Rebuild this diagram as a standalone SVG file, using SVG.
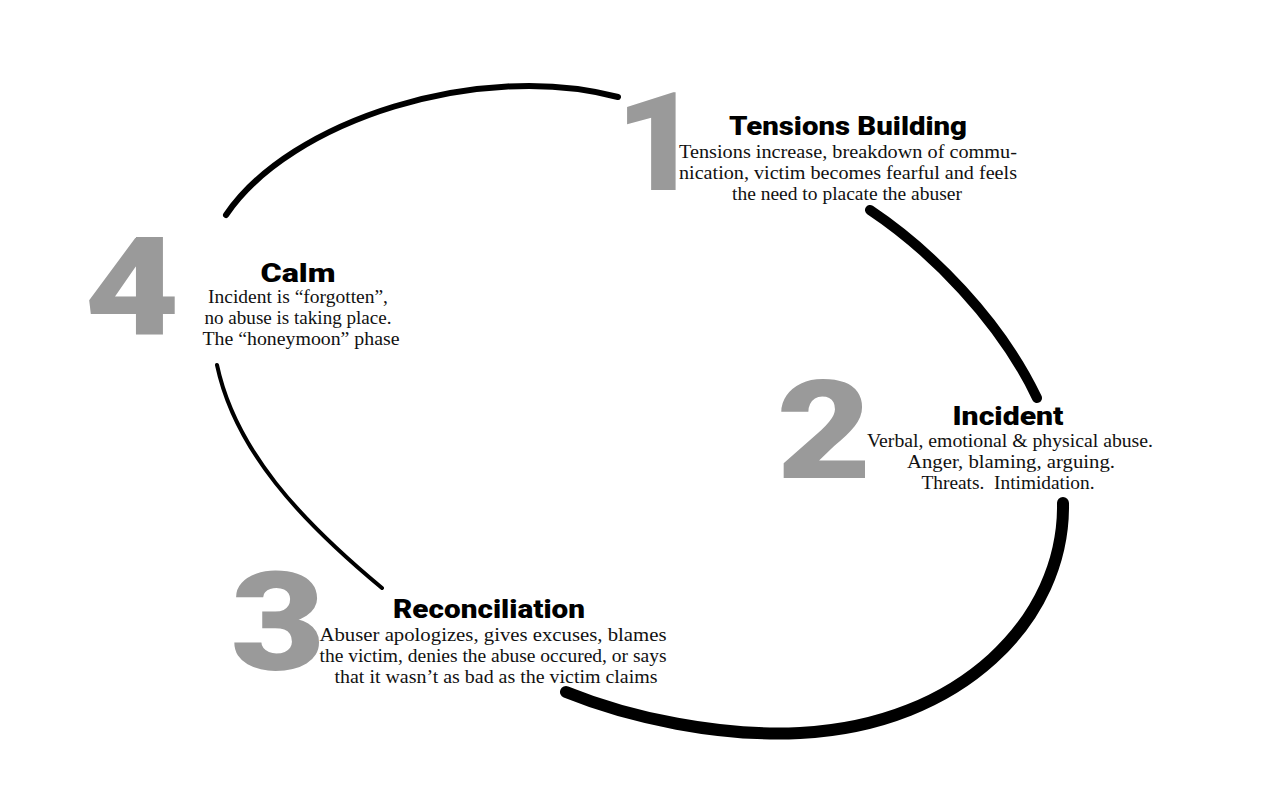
<svg xmlns="http://www.w3.org/2000/svg" width="1280" height="800" viewBox="0 0 1280 800">
<style>
.num{font-family:Roboto,"Open Sans","DejaVu Sans",sans-serif;font-weight:900;font-size:138px;fill:#9a9a9a;text-anchor:middle}
.head{font-family:Roboto,"DejaVu Sans",sans-serif;font-weight:900;font-size:25px;fill:#000;text-anchor:middle}
.body{font-family:"Liberation Serif","DejaVu Serif",serif;font-size:19px;fill:#111;text-anchor:middle}
.arc{fill:none;stroke:#000;stroke-linecap:round}
</style>
<rect width="1280" height="800" fill="#fff"/>
<g id="connectors">
<path class="arc" stroke-width="6" d="M226,215 C290,120 480,60 618,97"/>
<path class="arc" stroke-width="10" d="M870,210 C930,250 1000,320 1037,398"/>
<path class="arc" stroke-width="12" d="M1063,503 C1065,620 960,725 800,733 C720,737 630,718 566,692"/>
<path class="arc" stroke-width="4" d="M217,365 C235,450 300,520 382,588"/>
</g>
<g id="tensions">
<text class="num" x="658" y="190" textLength="86" lengthAdjust="spacingAndGlyphs">1</text>
<text class="head" x="848" y="135" textLength="238" lengthAdjust="spacingAndGlyphs">Tensions Building</text>
<text class="body" x="848" y="158" textLength="338" lengthAdjust="spacingAndGlyphs">Tensions increase, breakdown of commu-</text>
<text class="body" x="848" y="179" textLength="338" lengthAdjust="spacingAndGlyphs">nication, victim becomes fearful and feels</text>
<text class="body" x="847" y="200" textLength="230" lengthAdjust="spacingAndGlyphs">the need to placate the abuser</text>
</g>
<g id="incident">
<text class="num" x="824" y="478" textLength="95" lengthAdjust="spacingAndGlyphs">2</text>
<text class="head" x="1008" y="425" textLength="111" lengthAdjust="spacingAndGlyphs">Incident</text>
<text class="body" x="1010" y="447" textLength="286" lengthAdjust="spacingAndGlyphs">Verbal, emotional &amp; physical abuse.</text>
<text class="body" x="1011" y="468" textLength="208" lengthAdjust="spacingAndGlyphs">Anger, blaming, arguing.</text>
<text class="body" x="1008" y="489" textLength="173" lengthAdjust="spacingAndGlyphs" xml:space="preserve">Threats.  Intimidation.</text>
</g>
<g id="reconciliation">
<text class="num" x="278" y="670" textLength="95" lengthAdjust="spacingAndGlyphs">3</text>
<text class="head" x="489" y="618" textLength="192" lengthAdjust="spacingAndGlyphs">Reconciliation</text>
<text class="body" x="493" y="641" textLength="347" lengthAdjust="spacingAndGlyphs">Abuser apologizes, gives excuses, blames</text>
<text class="body" x="493" y="662" textLength="347" lengthAdjust="spacingAndGlyphs">the victim, denies the abuse occured, or says</text>
<text class="body" x="496" y="683" textLength="323" lengthAdjust="spacingAndGlyphs">that it wasn’t as bad as the victim claims</text>
</g>
<g id="calm">
<text class="num" x="132" y="335" textLength="95" lengthAdjust="spacingAndGlyphs">4</text>
<text class="head" x="298" y="282" textLength="75" lengthAdjust="spacingAndGlyphs">Calm</text>
<text class="body" x="298" y="303" textLength="180" lengthAdjust="spacingAndGlyphs">Incident is “forgotten”,</text>
<text class="body" x="298" y="324" textLength="187" lengthAdjust="spacingAndGlyphs">no abuse is taking place.</text>
<text class="body" x="301" y="345" textLength="197" lengthAdjust="spacingAndGlyphs">The “honeymoon” phase</text>
</g>
</svg>
